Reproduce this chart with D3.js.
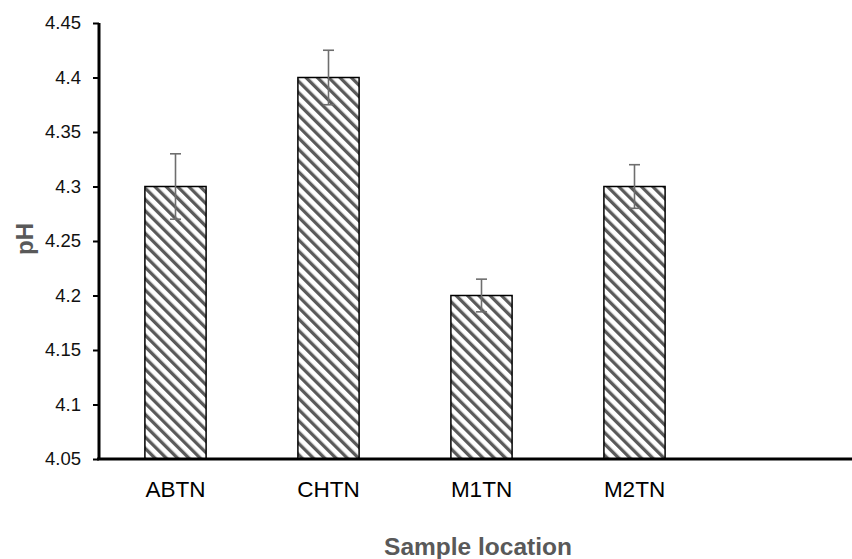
<!DOCTYPE html>
<html>
<head>
<meta charset="utf-8">
<script src="https://cdn.jsdelivr.net/npm/d3@7"></script>
<style>
  html, body { margin: 0; padding: 0; background: #fff; }
  svg { display: block; font-family: Arial, "Liberation Sans", sans-serif; }
</style>
</head>
<body>
<svg id="chart" width="852" height="559"></svg>
<script>
const categories = ["ABTN", "CHTN", "M1TN", "M2TN"];
const slots = ["ABTN", "CHTN", "M1TN", "M2TN", ""];
const phValues = [4.30, 4.40, 4.20, 4.30];
const phErrors = [0.03, 0.025, 0.015, 0.02];
const yTicks = [4.05, 4.1, 4.15, 4.2, 4.25, 4.3, 4.35, 4.4, 4.45];
const yTickLabels = ["4.05", "4.1", "4.15", "4.2", "4.25", "4.3", "4.35", "4.4", "4.45"];
const xTitle = "Sample location";
const yTitle = "pH";

(function () {
const svg = d3.select("#chart");
const mLeft = 99, mRight = 864, mTop = 23, mBottom = 459;

const x = d3.scaleBand().domain(slots).range([mLeft, mRight]).paddingInner(0.6).paddingOuter(0.3);
const y = d3.scaleLinear().domain([4.05, 4.45]).range([mBottom, mTop]);

const defs = svg.append("defs");
const pat = defs.append("pattern")
  .attr("id", "hatch")
  .attr("patternUnits", "userSpaceOnUse")
  .attr("width", 8).attr("height", 8)
  .attr("patternTransform", "rotate(-45)");
pat.append("rect").attr("width", 8).attr("height", 8).attr("fill", "#fff");
pat.append("rect").attr("x", 0).attr("width", 3.3).attr("height", 8).attr("fill", "#5a5a5a");

const data = categories.map((c, i) => ({ c, v: phValues[i], e: phErrors[i] }));

// bars
svg.append("g").selectAll("rect").data(data).join("rect")
  .attr("x", d => x(d.c))
  .attr("y", d => y(d.v))
  .attr("width", x.bandwidth())
  .attr("height", d => y(4.05) - y(d.v))
  .attr("fill", "url(#hatch)")
  .attr("stroke", "#000")
  .attr("stroke-width", 1.5);

// error bars
const eg = svg.append("g").attr("stroke", "#6e6e6e").attr("stroke-width", 1.6);
data.forEach(d => {
  const cx = x(d.c) + x.bandwidth() / 2;
  eg.append("line").attr("x1", cx).attr("x2", cx).attr("y1", y(d.v + d.e)).attr("y2", y(d.v - d.e));
  eg.append("line").attr("x1", cx - 5.5).attr("x2", cx + 5.5).attr("y1", y(d.v + d.e)).attr("y2", y(d.v + d.e));
  eg.append("line").attr("x1", cx - 5.5).attr("x2", cx + 5.5).attr("y1", y(d.v - d.e)).attr("y2", y(d.v - d.e));
});

// y axis
const yAxis = d3.axisLeft(y).tickValues(yTicks).tickFormat((d, i) => yTickLabels[i]).tickSize(6).tickPadding(12);
const gy = svg.append("g").attr("transform", `translate(${mLeft},0)`).call(yAxis);
gy.select(".domain").attr("stroke", "#000").attr("stroke-width", 3).attr("d", `M0,${mTop}V${mBottom}`);
gy.selectAll(".tick line").attr("stroke", "#000").attr("stroke-width", 2);
gy.selectAll(".tick text").attr("font-size", 18.5).attr("fill", "#111").attr("font-family", "Arial, 'Liberation Sans', sans-serif");

// x axis
const xAxis = d3.axisBottom(x).tickSize(0).tickPadding(22);
const gx = svg.append("g").attr("transform", `translate(0,${mBottom})`).call(xAxis);
gx.select(".domain").attr("stroke", "#000").attr("stroke-width", 3).attr("d", `M${mLeft - 2},0H852`);
gx.selectAll(".tick text").attr("font-size", 22.5).attr("fill", "#000").attr("font-family", "Arial, 'Liberation Sans', sans-serif");

// titles
svg.append("text").attr("x", 478).attr("y", 555)
  .attr("text-anchor", "middle").attr("font-size", 24.5).attr("font-weight", "bold").attr("fill", "#595959")
  .text(xTitle);
svg.append("text").attr("transform", `translate(33,239) rotate(-90)`)
  .attr("text-anchor", "middle").attr("font-size", 24).attr("font-weight", "bold").attr("fill", "#595959")
  .text(yTitle);
})();
</script>
</body>
</html>
